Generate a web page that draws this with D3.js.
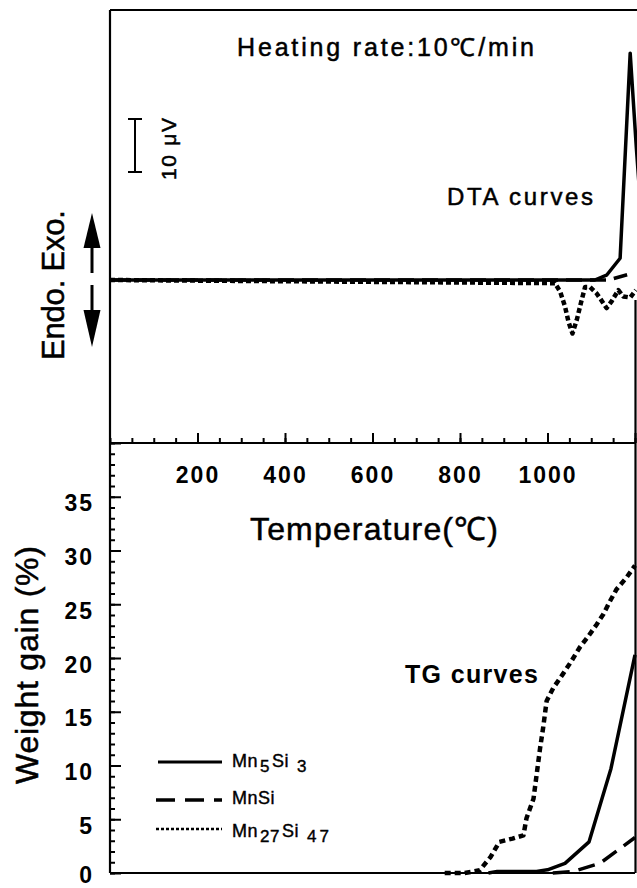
<!DOCTYPE html>
<html>
<head>
<meta charset="utf-8">
<script src="https://cdn.jsdelivr.net/npm/d3@7"></script>
<style>
  body { margin: 0; background: #fff; }
  svg { display: block; font-family: "Liberation Sans", Arial, sans-serif; }
</style>
</head>
<body>
<svg id="chart" width="637" height="888"></svg>
<script>
// tick values
const majorTemps = [200, 400, 600, 800, 1000, 1200];
const minorTemps = d3.range(0, 1201, 50);
const tgMajor = [0, 5, 10, 15, 20, 25, 30, 35, 40];
const tgMinor = d3.range(0, 41, 1);

// DTA curves (uV)
const dtaMn5Si3T = [0, 1108, 1135, 1166, 1189, 1203, 1225];
const dtaMn5Si3V = [0, 0, 0.9, 4.1, 42.8, 25, 0];
const dtaMnSiT = [0, 1140, 1182];
const dtaMnSiV = [0, 0, 1.0];
const dtaMn27Si47T = [0, 1017, 1029, 1040, 1048, 1057, 1067, 1078, 1086, 1097, 1112, 1123, 1135, 1146, 1162, 1173, 1189, 1202];
const dtaMn27Si47V = [0, -0.6, -2.2, -5.0, -7.9, -10.1, -7.5, -3.8, -1.3, -1.3, -2.5, -3.8, -5.3, -4.1, -1.9, -3.1, -3.3, -1.9];

// TG curves (weight gain %)
const tgMn5Si3T = [865, 885, 975, 1000, 1040, 1095, 1145, 1200];
const tgMn5Si3W = [0, 0.15, 0.15, 0.3, 0.9, 2.9, 9.7, 20.3];
const tgMnSiT = [1012, 1060, 1120, 1200];
const tgMnSiW = [0, 0.15, 0.9, 3.3];
const tgMn27Si47T = [765, 810, 845, 870, 890, 920, 945, 952, 968, 975, 983, 990, 998, 1013, 1035, 1053, 1074, 1093, 1112, 1128, 1143, 1158, 1181, 1200];
const tgMn27Si47W = [0, 0, 0.25, 1.5, 2.9, 3.2, 3.5, 5.1, 6.9, 9.1, 11.6, 13.5, 16.0, 17.2, 18.5, 19.6, 21.0, 22.0, 23.1, 24.1, 25.3, 26.4, 27.5, 28.6];

const svg = d3.select("#chart");

const x = d3.scaleLinear().domain([0, 1200]).range([110, 635]);
const yTg = d3.scaleLinear().domain([0, 40]).range([873, 443]);
const yDta = d3.scaleLinear().domain([0, 10]).range([280, 227]);   // 10 uV = 53 px

// frame
const frame = [[110, 10, 637, 10], [110, 10, 110, 873], [110, 443, 635, 443], [110, 873, 635, 873], [635.5, 300, 635.5, 873]];
svg.append("g").selectAll("line").data(frame).join("line")
  .attr("x1", d => d[0]).attr("y1", d => d[1]).attr("x2", d => d[2]).attr("y2", d => d[3])
  .attr("stroke", "#000").attr("stroke-width", 2.2);

// temperature axis (ticks pointing up, labels below)
const styleAxis = g => {
  g.select(".domain").remove();
  g.selectAll("line").attr("stroke", "#000").attr("stroke-width", 2);
  g.selectAll("text").attr("fill", "#000").attr("font-family", "Liberation Sans, Arial, sans-serif")
    .attr("font-size", 23).attr("font-weight", "bold").style("letter-spacing", "2px");
};
svg.append("g").attr("transform", "translate(0,443)")
  .call(d3.axisBottom(x).tickValues(minorTemps).tickSize(-5).tickFormat(""))
  .call(styleAxis);
svg.append("g").attr("transform", "translate(0,443)")
  .call(d3.axisBottom(x).tickValues(majorTemps).tickSize(-10).tickPadding(24).tickFormat(d => d === 1200 ? "" : d))
  .call(styleAxis);

// weight gain axis (ticks pointing in)
svg.append("g").attr("transform", "translate(110,0)")
  .call(d3.axisLeft(yTg).tickValues(tgMinor).tickSize(-5).tickFormat(""))
  .call(styleAxis);
svg.append("g").attr("transform", "translate(110,0)")
  .call(d3.axisLeft(yTg).tickValues(tgMajor).tickSize(-11).tickPadding(16).tickFormat(d => d === 40 ? "" : d))
  .call(styleAxis)
  .call(g => g.selectAll("text").attr("dy", d => d === 0 ? 9 : 14));

// curves
const dtaLine = d3.line().x(d => x(d[0])).y(d => yDta(d[1]));
const tgLine = d3.line().x(d => x(d[0])).y(d => yTg(d[1]));

const curves = [
  { d: dtaLine(d3.zip(dtaMn27Si47T, dtaMn27Si47V)), dash: "5,3", w: 4.5 },
  { d: dtaLine(d3.zip(dtaMnSiT, dtaMnSiV)), dash: "16,8", w: 3.5 },
  { d: dtaLine(d3.zip(dtaMn5Si3T, dtaMn5Si3V)), dash: null, w: 3.5 },
  { d: tgLine(d3.zip(tgMn27Si47T, tgMn27Si47W)), dash: "6,4", w: 4.5 },
  { d: tgLine(d3.zip(tgMnSiT, tgMnSiW)), dash: "17,9", w: 3.5 },
  { d: tgLine(d3.zip(tgMn5Si3T, tgMn5Si3W)), dash: null, w: 3.5 }
];
svg.append("g").selectAll("path").data(curves).join("path")
  .attr("d", c => c.d).attr("fill", "none").attr("stroke", "#000")
  .attr("stroke-width", c => c.w).attr("stroke-dasharray", c => c.dash)
  .attr("stroke-linejoin", "round");

// endo / exo arrows
svg.append("line").attr("x1", 92).attr("x2", 92).attr("y1", 273).attr("y2", 245).attr("stroke", "#000").attr("stroke-width", 3);
svg.append("path").attr("d", "M92,213 L83.5,248 L100.5,248 Z").attr("fill", "#000");
svg.append("line").attr("x1", 92).attr("x2", 92).attr("y1", 285).attr("y2", 313).attr("stroke", "#000").attr("stroke-width", 3);
svg.append("path").attr("d", "M92,347 L83.5,310 L100.5,310 Z").attr("fill", "#000");

// 10 uV scale bar
const barBottom = 172, barTop = barBottom - (yDta(0) - yDta(10));
svg.append("path").attr("d", `M128,${barTop} H142 M135,${barTop} V${barBottom} M128,${barBottom} H142`)
  .attr("stroke", "#000").attr("stroke-width", 2).attr("fill", "none");

// texts (thin outline to match the heavier print)
const txt = (s, xx, yy, size, len, opts = {}) => svg.append("text")
  .attr("transform", `translate(${xx},${yy})` + (opts.rot ? " rotate(-90)" : ""))
  .attr("text-anchor", opts.anchor || "start")
  .attr("font-size", size).attr("font-weight", opts.bold ? "bold" : "normal")
  .attr("stroke", opts.bold ? null : "#000").attr("stroke-width", opts.bold ? null : 0.5)
  .attr("textLength", len).attr("lengthAdjust", "spacing")
  .text(s);

txt("Heating rate:10℃/min", 237, 56, 25, 297);
txt("10 μV", 176, 149, 21, 62, { rot: true, anchor: "middle" });
txt("Endo. Exo.", 64, 285, 31, 150, { rot: true, anchor: "middle" });
txt("DTA curves", 447, 205, 24, 146);
txt("Temperature(℃)", 250, 540, 32, 248);
txt("Weight gain (%)", 38, 665, 32, 238, { rot: true, anchor: "middle" });
txt("TG curves", 405, 683, 25, 133, { bold: true });

// legend
const legendNames = [["Mn", "5", "Si", "3"], ["MnSi"], ["Mn", "27", "Si", "47"]];
const legendRows = [
  { y: 762, text: 767, x1: 158, dash: null, w: 3 },
  { y: 800, text: 804, x1: 156, dash: "19,10", w: 3.5 },
  { y: 829, text: 837, x1: 156, dash: "3,2", w: 2.5 }
];
legendRows.forEach((r, i) => {
  svg.append("line").attr("x1", r.x1).attr("x2", 222).attr("y1", r.y).attr("y2", r.y)
    .attr("stroke", "#000").attr("stroke-width", r.w).attr("stroke-dasharray", r.dash);
  const t = svg.append("text").attr("x", 232).attr("y", r.text).attr("font-size", 18)
    .attr("stroke", "#000").attr("stroke-width", 0.4);
  legendNames[i].forEach((part, j) => {
    const sub = j % 2 === 1;
    t.append("tspan")
      .attr("dx", j === 0 ? 0 : (j === 3 ? 8 : 2))
      .attr("dy", sub ? 5 : (j > 0 ? -5 : 0))
      .attr("font-size", sub ? 17 : 18)
      .style("letter-spacing", j === 3 ? "3px" : "0.5px")
      .text(part);
  });
});
</script>
</body>
</html>
